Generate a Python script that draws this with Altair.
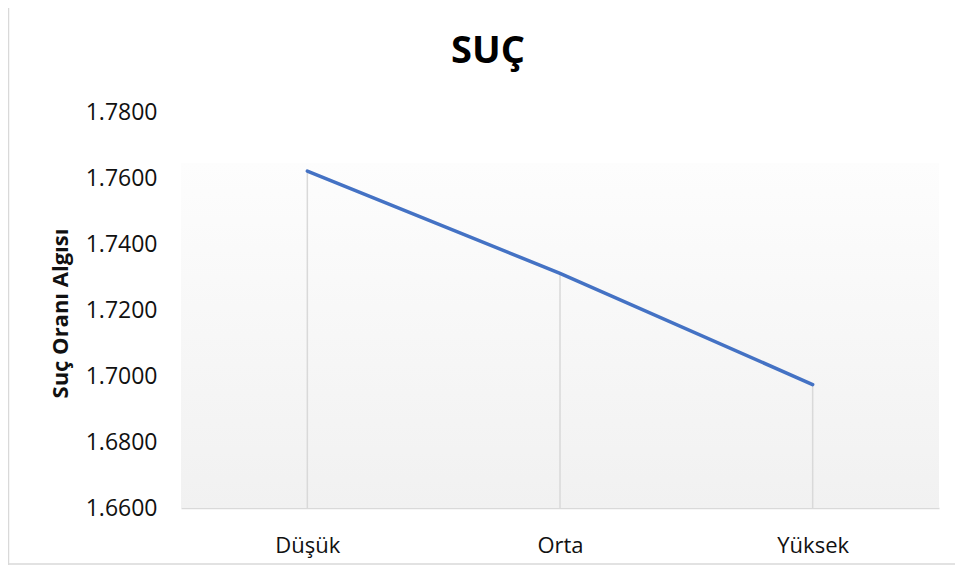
import altair as alt
import pandas as pd

categories = ["Düşük", "Orta", "Yüksek"]
values = [1.7621, 1.7311, 1.6974]
y_ticks = [1.66, 1.68, 1.70, 1.72, 1.74, 1.76, 1.78]

W, H = 758, 396
PAD = {"left": 173, "top": 104, "right": 16, "bottom": 57}
FONT = "Open Sans"
GRID = "#d9d9d9"

df = pd.DataFrame({"cat": categories, "val": values})
one = pd.DataFrame({"a": [0]})

x_enc = alt.X("cat:N", sort=categories, title=None,
              scale=alt.Scale(type="point", padding=0.5),
              axis=alt.Axis(labelAngle=0, ticks=False, domainColor=GRID, domainWidth=1.5,
                            labelFont=FONT, labelFontSize=22, labelColor="#111",
                            labelBaseline="alphabetic", labelPadding=44))
y_enc = alt.Y("val:Q", title="Suç Oranı Algısı",
              scale=alt.Scale(domain=[1.66, 1.78], nice=False, zero=False),
              axis=alt.Axis(values=y_ticks, format=".4f", grid=False, domain=False, ticks=False,
                            labelFont=FONT, labelFontSize=23, labelColor="#111", labelPadding=24,
                            labelBaseline="middle",
                            titleFont=FONT, titleFontSize=22, titleFontWeight="bold", titleColor="#111",
                            titleAngle=-90, titleX=-121, titleY=201, titleAlign="center",
                            titleBaseline="middle"))

bg = alt.Chart(one).mark_rect(
    color=alt.Gradient(gradient="linear", x1=0, x2=0, y1=0, y2=1,
                       stops=[alt.GradientStop(color="#fdfdfd", offset=0),
                              alt.GradientStop(color="#f1f1f1", offset=1)])
).encode(x=alt.value(0), x2=alt.value(W), y=alt.value(51), y2=alt.value(H))

drops = alt.Chart(df).mark_rule(color=GRID, strokeWidth=1.5).encode(
    x=x_enc, y=y_enc, y2=alt.datum(1.66))

line = alt.Chart(df).mark_line(color="#4472C4", strokeWidth=3.5, strokeCap="round").encode(
    x=x_enc, y=y_enc)

left_border = alt.Chart(one).mark_rule(color=GRID, strokeWidth=1.5).encode(
    x=alt.value(-172.5), y=alt.value(-104), y2=alt.value(H + PAD["bottom"]))
bottom_border = alt.Chart(one).mark_rule(color=GRID, strokeWidth=1.5).encode(
    x=alt.value(-173), x2=alt.value(W + PAD["right"]), y=alt.value(H + PAD["bottom"] - 1))

chart = alt.layer(bg, drops, line, left_border, bottom_border).properties(
    width=W, height=H,
    padding=PAD,
    autosize=alt.AutoSizeParams(type="none"),
    title=alt.TitleParams("SUÇ", font=FONT, fontSize=38, fontWeight="bold", color="#000",
                          anchor="middle", dx=-72, baseline="alphabetic", offset=-94),
    background="white",
).configure_view(stroke=None)

chart.save("out.html", embed_options={"renderer": "svg", "actions": False})
